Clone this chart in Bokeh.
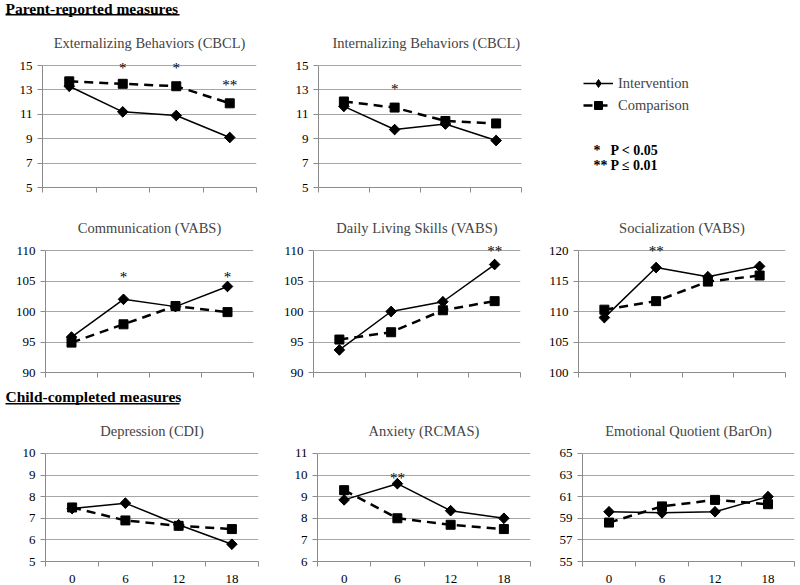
from bokeh.plotting import figure
from bokeh.models import (Range1d, FixedTicker, Label, Legend, LegendItem, BoxAnnotation,
                          LabelSet, ColumnDataSource)
from bokeh.layouts import row, column
from bokeh.embed import file_html
from bokeh.resources import INLINE

# ---------------- data ----------------
months = [0, 6, 12, 18]
boundaries = [-3, 3, 9, 15, 21]

ext_int = [13.3, 11.2, 10.9, 9.1]
ext_cmp = [13.7, 13.5, 13.3, 11.9]
ext_sig_x = [6, 12, 18]
ext_sig_t = ["*", "*", "**"]
ext_sig_y = [15.05, 15.05, 13.65]

int_int = [11.65, 9.75, 10.2, 8.85]
int_cmp = [12.05, 11.55, 10.45, 10.25]
int_sig_x = [6]
int_sig_t = ["*"]
int_sig_y = [13.3]

com_int = [95.8, 102.0, 100.8, 104.1]
com_cmp = [94.9, 97.9, 100.9, 99.9]
com_sig_x = [6, 18]
com_sig_t = ["*", "*"]
com_sig_y = [106.2, 106.2]

dls_int = [93.7, 100.0, 101.6, 107.7]
dls_cmp = [95.4, 96.6, 100.2, 101.7]
dls_sig_x = [18]
dls_sig_t = ["**"]
dls_sig_y = [110.4]

soc_int = [109.0, 117.2, 115.7, 117.4]
soc_cmp = [110.3, 111.7, 114.9, 115.9]
soc_sig_x = [6]
soc_sig_t = ["**"]
soc_sig_y = [120.4]

dep_int = [7.45, 7.7, 6.7, 5.8]
dep_cmp = [7.5, 6.9, 6.65, 6.5]

anx_int = [8.85, 9.6, 8.35, 8.0]
anx_cmp = [9.3, 8.0, 7.7, 7.5]
anx_sig_x = [6]
anx_sig_t = ["**"]
anx_sig_y = [10.0]

eq_int = [59.6, 59.5, 59.6, 61.0]
eq_cmp = [58.6, 60.1, 60.7, 60.3]

series_names = ["Intervention", "Comparison"]
sig_notes = [("*", "P < 0.05"), ("**", "P \u2264 0.01")]

FONT = "Liberation Serif"
GRID = "#a6a6a6"
AXIS = "#8c8c8c"
EXT_TOP = 10  # frame headroom (px) so significance stars are not clipped


def panel(title, lo, hi, step, inter, comp, sig, w, h, left, right, top, bottom,
          xlabels, xext=0):
    fh = h - top - bottom
    fw = w - left - right
    y_end = hi + EXT_TOP * (hi - lo) / fh
    x_end = 21 + xext * 24 / fw
    p = figure(width=w, height=h, x_range=Range1d(-3, x_end), y_range=Range1d(lo, y_end),
               output_backend="svg", toolbar_location=None, title=title,
               min_border_left=left, min_border_right=right - xext,
               min_border_top=top - EXT_TOP, min_border_bottom=bottom)
    p.outline_line_color = None
    p.title.text_font = FONT
    p.title.text_font_size = "14.5px"
    p.title.text_font_style = "normal"
    if xext:
        p.title.align = "left"
        p.title.offset = 14
    else:
        p.title.align = "center"
    p.title.standoff = 19 - EXT_TOP
    p.xgrid.visible = False
    p.ygrid.grid_line_color = GRID
    p.ygrid.grid_line_width = 1
    p.ygrid.cross_bounds = (-3, 21)

    p.yaxis.ticker = FixedTicker(ticks=list(range(lo, hi + 1, step)))
    p.yaxis.bounds = (lo, hi)
    p.yaxis.axis_line_color = AXIS
    p.yaxis.major_tick_line_color = AXIS
    p.yaxis.major_tick_out = 5
    p.yaxis.major_tick_in = 0
    p.yaxis.minor_tick_out = 0
    p.yaxis.major_label_text_font = FONT
    p.yaxis.major_label_text_font_size = "13px"
    p.yaxis.major_label_text_color = "black"

    p.xaxis.ticker = FixedTicker(ticks=months if xlabels else [], minor_ticks=boundaries)
    p.xaxis.bounds = (-3, 21)
    p.xaxis.axis_line_color = AXIS
    p.xaxis.major_tick_out = 0
    p.xaxis.major_tick_in = 0
    p.xaxis.minor_tick_out = 5
    p.xaxis.minor_tick_in = 0
    p.xaxis.minor_tick_line_color = AXIS
    p.xaxis.major_label_text_font = FONT
    p.xaxis.major_label_text_color = "black"
    p.xaxis.major_label_text_font_size = "13px"
    p.xaxis.major_label_standoff = 8

    l2 = p.line(months, comp, line_color="black", line_width=2.5, line_dash="9 6")
    s2 = p.scatter(months, comp, marker="square", size=9, color="black")
    l1 = p.line(months, inter, line_color="black", line_width=1.5)
    p.scatter(months, inter, marker="square", angle=0.785398, size=7.5, color="black")
    # plain diamond on the same points (hidden inside the rotated square); used by the legend
    d1 = p.scatter(months, inter, marker="diamond", size=10, color="black")

    if sig is not None:
        sx, st, sy = sig
        src = ColumnDataSource(dict(x=sx, y=sy, t=st))
        p.add_layout(LabelSet(x="x", y="y", text="t", source=src, text_font=FONT,
                              text_font_size="15px", text_align="center",
                              text_baseline="middle", y_offset=-3, text_color="black"))
    return p, (l1, d1, l2, s2)


def header(text, w, h, ty, uy, ux0, uw):
    p = figure(width=w, height=h, x_range=Range1d(0, w), y_range=Range1d(0, h),
               output_backend="svg", toolbar_location=None, min_border=0)
    p.axis.visible = False
    p.grid.visible = False
    p.outline_line_color = None
    p.add_layout(Label(x=ux0, y=ty, text=text, text_font=FONT, text_font_size="15.5px",
                       text_font_style="bold", text_baseline="middle", text_color="black"))
    p.add_layout(BoxAnnotation(left=ux0, right=ux0 + uw, bottom=uy, top=uy + 1.4,
                               fill_color="black", fill_alpha=1, line_color=None))
    return p


h1 = header("Parent-reported measures", 792, 22, 14, 7, 5, 174)
p1, _ = panel("Externalizing Behaviors (CBCL)", 5, 15, 2, ext_int, ext_cmp,
              (ext_sig_x, ext_sig_t, ext_sig_y), 262, 173, 42, 6, 43, 8, False)
p2, (l1, d1, l2, s2) = panel("Internalizing Behaviors (CBCL)", 5, 15, 2, int_int, int_cmp,
                             (int_sig_x, int_sig_t, int_sig_y), 530, 173, 56, 271, 43, 8,
                             False, xext=270)

leg = Legend(items=[LegendItem(label=series_names[0], renderers=[l1, d1]),
                    LegendItem(label=series_names[1], renderers=[l2, s2])],
             location=(265, 72), glyph_width=30, glyph_height=20, label_height=20,
             spacing=2, padding=0, margin=0, label_standoff=5,
             border_line_color=None, background_fill_alpha=0,
             label_text_font=FONT, label_text_font_size="14.5px")
p2.add_layout(leg)
for i, (star, note) in enumerate(sig_notes):
    yy = 37 - 15 * i
    p2.add_layout(Label(x=275, y=yy, x_units="screen", y_units="screen", text=star,
                        text_font=FONT, text_font_size="14px", text_font_style="bold",
                        text_baseline="middle", text_color="black"))
    p2.add_layout(Label(x=292, y=yy, x_units="screen", y_units="screen", text=note,
                        text_font=FONT, text_font_size="14px", text_font_style="bold",
                        text_baseline="middle", text_color="black"))

p4, _ = panel("Communication (VABS)", 90, 110, 5, com_int, com_cmp,
              (com_sig_x, com_sig_t, com_sig_y), 265, 185, 45, 12, 55, 8, False)
p5, _ = panel("Daily Living Skills (VABS)", 90, 110, 5, dls_int, dls_cmp,
              (dls_sig_x, dls_sig_t, dls_sig_y), 265, 185, 48, 10, 55, 8, False)
p6, _ = panel("Socialization (VABS)", 100, 120, 5, soc_int, soc_cmp,
              (soc_sig_x, soc_sig_t, soc_sig_y), 262, 185, 48, 7, 55, 8, False)

h2 = header("Child-completed measures", 792, 32, 16.5, 8, 5, 174)
p7, _ = panel("Depression (CDI)", 5, 10, 1, dep_int, dep_cmp, None, 265, 173, 45, 7, 41, 23, True)
p8, _ = panel("Anxiety (RCMAS)", 6, 11, 1, anx_int, anx_cmp,
              (anx_sig_x, anx_sig_t, anx_sig_y), 270, 173, 52, 5, 41, 23, True)
p9, _ = panel("Emotional Quotient (BarOn)", 55, 65, 2, eq_int, eq_cmp, None, 260, 173, 47, 1, 41, 23, True)

layout = column(h1, row(p1, p2), row(p4, p5, p6), h2, row(p7, p8, p9))

open("out.html", "w").write(file_html(layout, INLINE))
